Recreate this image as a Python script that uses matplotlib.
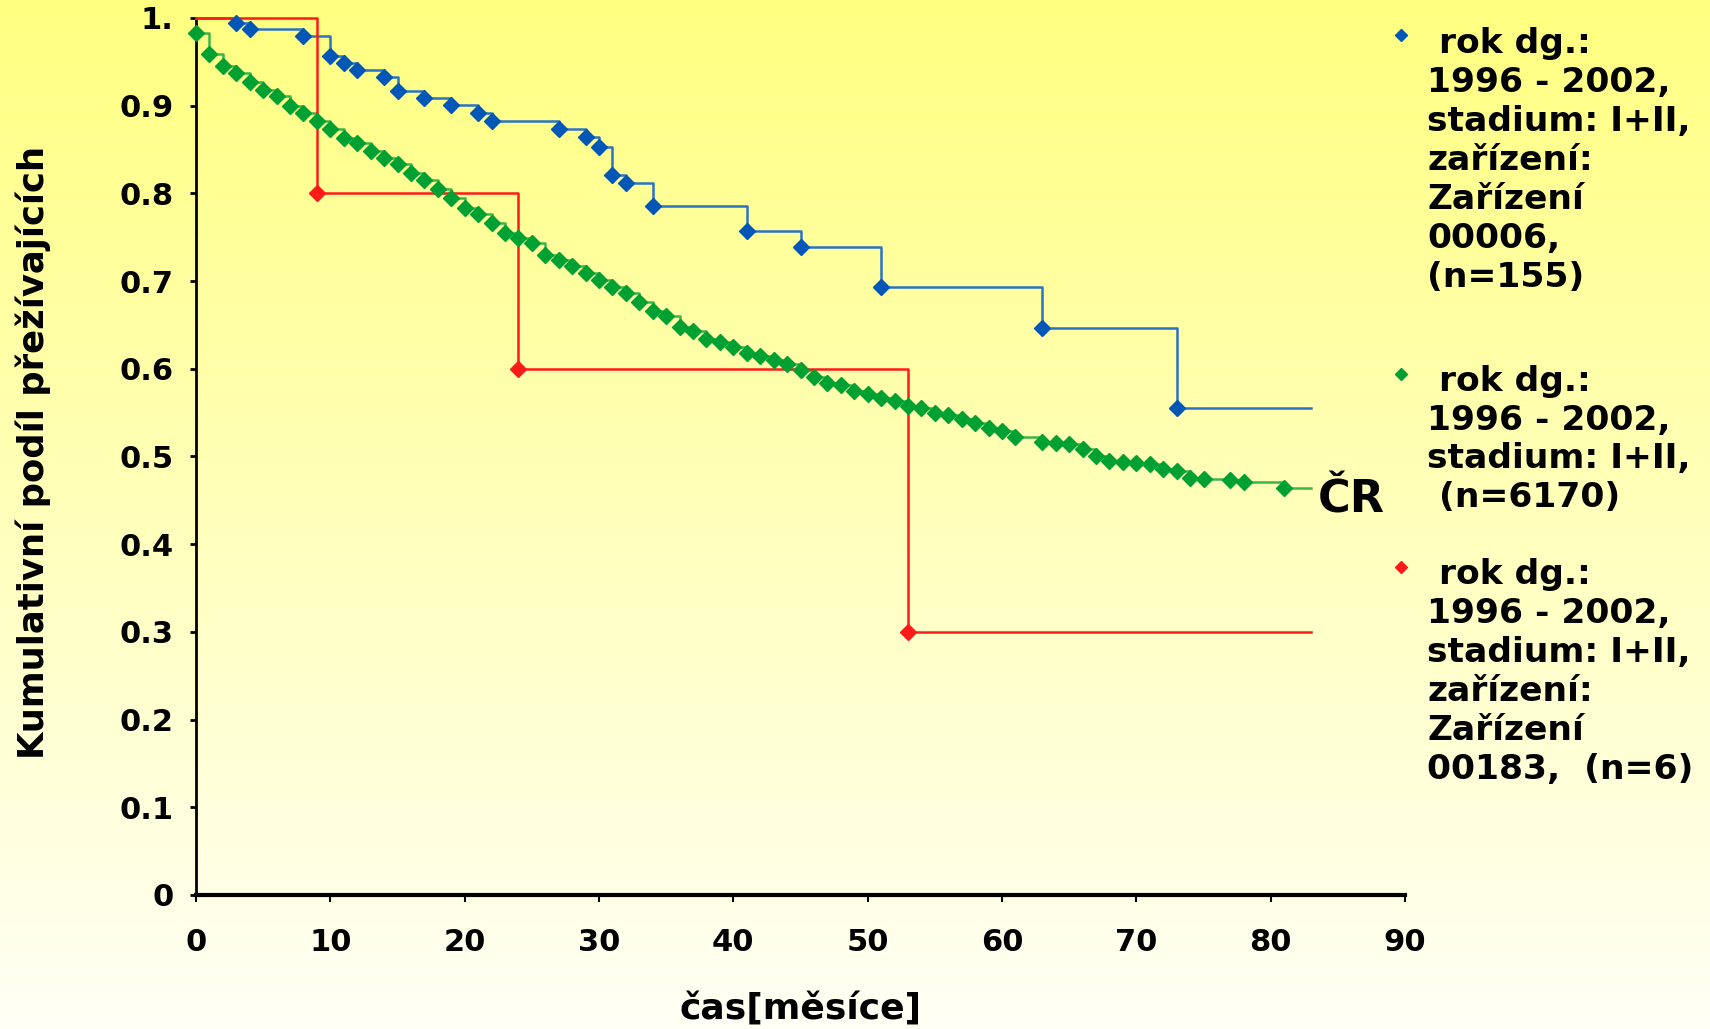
import numpy as np
import matplotlib.pyplot as plt
from matplotlib.lines import Line2D

# Data (months, cumulative survival)
blue_t = [3, 4, 8, 10, 11, 12, 14, 15, 17, 19, 21, 22, 27, 29, 30, 31, 32, 34, 41, 45, 51, 63, 73]
blue_s = [0.994, 0.987, 0.980, 0.957, 0.949, 0.941, 0.933, 0.917, 0.909, 0.901, 0.892, 0.883,
          0.873, 0.864, 0.853, 0.821, 0.812, 0.786, 0.757, 0.739, 0.693, 0.647, 0.555]

green_t = list(range(0, 62)) + [63, 64, 65, 66, 67, 68, 69, 70, 71, 72, 73, 74, 75, 77, 78, 81]
green_s = [0.983, 0.959, 0.945, 0.937, 0.927, 0.918, 0.911, 0.900, 0.892, 0.882,
           0.873, 0.863, 0.857, 0.848, 0.840, 0.833, 0.823, 0.815, 0.805, 0.795,
           0.783, 0.777, 0.766, 0.755, 0.749, 0.743, 0.730, 0.724, 0.717, 0.709,
           0.701, 0.693, 0.686, 0.676, 0.666, 0.660, 0.648, 0.643, 0.634, 0.630,
           0.625, 0.618, 0.615, 0.610, 0.605, 0.599, 0.591, 0.584, 0.581, 0.575,
           0.571, 0.567, 0.563, 0.558, 0.555, 0.550, 0.547, 0.543, 0.538, 0.533,
           0.529, 0.522,
           0.517, 0.515, 0.514, 0.508, 0.500, 0.495, 0.494, 0.493, 0.491, 0.486,
           0.483, 0.476, 0.474, 0.473, 0.471, 0.464]

red_t = [9, 24, 53]
red_s = [0.8, 0.6, 0.3]

t_end = 83

xticks = list(range(0, 91, 10))
yticks = [0, 0.1, 0.2, 0.3, 0.4, 0.5, 0.6, 0.7, 0.8, 0.9, 1.0]
ytick_labels = ['0', '0.1', '0.2', '0.3', '0.4', '0.5', '0.6', '0.7', '0.8', '0.9', '1.']

legend_texts = [
    ' rok dg.:\n1996 - 2002,\nstadium: I+II,\nzařízení:\nZařízení\n00006,\n(n=155)',
    ' rok dg.:\n1996 - 2002,\nstadium: I+II,\n (n=6170)',
    ' rok dg.:\n1996 - 2002,\nstadium: I+II,\nzařízení:\nZařízení\n00183,  (n=6)',
]

BLUE_L, BLUE_M = '#2a72c4', '#0057b8'
GREEN_L, GREEN_M = '#3cb44a', '#00a033'
RED = '#ff1a1a'

fig = plt.figure(figsize=(17.1, 10.29), dpi=100)

# yellow gradient background
bg = fig.add_axes([0, 0, 1, 1], zorder=-10)
grad = np.linspace(0, 1, 256)[:, None]
top = np.array([255, 255, 128]) / 255
bot = np.array([255, 255, 246]) / 255
img = top[None, None, :] * (1 - grad[:, :, None]) + bot[None, None, :] * grad[:, :, None]
bg.imshow(img, aspect='auto', extent=[0, 1, 0, 1])
bg.axis('off')

ax = fig.add_axes([196 / 1710, 134 / 1029, 1209 / 1710, 877 / 1029])
ax.patch.set_alpha(0)


def km(ax, t, s, lc, mc, start, ms):
    xs = [0] + t + [t_end]
    ys = [start] + s + [s[-1]]
    ax.step(xs, ys, where='post', color=lc, lw=1.8, clip_on=False, zorder=3)
    ax.plot(t, s, 'D', color=mc, ms=ms, mec=mc, clip_on=False, zorder=4, lw=0)


km(ax, green_t, green_s, GREEN_L, GREEN_M, green_s[0], 8.5)
km(ax, blue_t, blue_s, BLUE_L, BLUE_M, 1.0, 8)
km(ax, red_t, red_s, RED, RED, 1.0, 8)

ax.set_xlim(0, 90)
ax.set_ylim(0, 1)
ax.set_xticks(xticks)
ax.set_yticks(yticks)
ax.set_yticklabels(ytick_labels)
for s in ['top', 'right']:
    ax.spines[s].set_visible(False)
ax.spines['left'].set_linewidth(2)
ax.spines['bottom'].set_linewidth(3)
ax.tick_params(axis='y', length=4, width=2, pad=12, labelsize=22)
ax.tick_params(axis='x', length=5, width=1.5, pad=19, labelsize=22)
for lab in ax.get_xticklabels() + ax.get_yticklabels():
    lab.set_fontweight('bold')

ax.set_xlabel('čas[měsíce]', fontsize=26, fontweight='bold', va='center')
ax.xaxis.set_label_coords(0.5, -0.13)
ax.set_ylabel('Kumulativní podíl přežívajících', fontsize=25.5, fontweight='bold', va='center')
ax.yaxis.set_label_coords(-0.135, 0.505)

ax.text(83.5, 0.45, 'ČR', fontsize=32, fontweight='bold', family='DejaVu Sans',
        va='center', ha='left')

# legend drawn by hand
W, H = 1710, 1029
centers = [160.5, 439.5, 672]
mk_y = [35, 374, 567]
for txt, cy, my, c in zip(legend_texts, centers, mk_y, [BLUE_M, GREEN_M, RED]):
    fig.text(1427 / W, 1 - cy / H, txt, fontsize=24.8, fontweight='bold',
             va='center', ha='left', linespacing=1.23)
    fig.add_artist(Line2D([1401 / W], [1 - my / H], marker='D', ms=6, color=c,
                          transform=fig.transFigure))

fig.savefig('out.png', dpi=100)
